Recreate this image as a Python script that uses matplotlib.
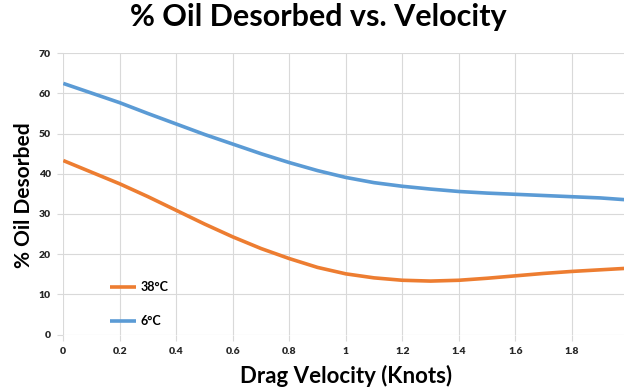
import matplotlib
matplotlib.use("Agg")
import matplotlib.pyplot as plt

velocity = [0.0, 0.1, 0.2, 0.3, 0.4, 0.5, 0.6, 0.7, 0.8, 0.9, 1.0,
            1.1, 1.2, 1.3, 1.4, 1.5, 1.6, 1.7, 1.8, 1.9, 2.0]
oil_38c = [43.3, 40.4, 37.5, 34.3, 30.9, 27.5, 24.3, 21.4, 18.9, 16.7, 15.1,
           14.1, 13.5, 13.3, 13.5, 14.0, 14.6, 15.2, 15.7, 16.1, 16.5]
oil_6c = [62.5, 60.1, 57.7, 55.0, 52.4, 49.8, 47.4, 45.0, 42.8, 40.8, 39.1,
          37.8, 36.9, 36.2, 35.6, 35.2, 34.9, 34.6, 34.3, 34.0, 33.5]
series_labels = ["38°C", "6°C"]
xticks = [0, 0.2, 0.4, 0.6, 0.8, 1, 1.2, 1.4, 1.6, 1.8]
xtick_labels = ["0", "0.2", "0.4", "0.6", "0.8", "1", "1.2", "1.4", "1.6", "1.8"]
yticks = [0, 10, 20, 30, 40, 50, 60, 70]

plt.rcParams['font.family'] = ['Lato', 'DejaVu Sans']

W, H = 624, 392
fig = plt.figure(figsize=(W / 100, H / 100), dpi=100)
left, right_px, top_px, bottom_px = 63.3, 628.3, 53.3, 334.5
ax = fig.add_axes([left / W, (H - bottom_px) / H, (right_px - left) / W, (bottom_px - top_px) / H])

ax.plot(velocity, oil_38c, color="#ED7D31", lw=2.6, label=series_labels[0], solid_capstyle='butt')
ax.plot(velocity, oil_6c, color="#5B9BD5", lw=2.6, label=series_labels[1], solid_capstyle='butt')

ax.set_xlim(0, 2.0)
ax.set_ylim(0, 70)
ax.set_xticks(xticks)
ax.set_xticklabels(xtick_labels)
ax.set_yticks(yticks)
ax.grid(True, color="#D9D9D9", lw=0.8)
ax.set_axisbelow(True)
for s in ax.spines.values():
    s.set_visible(False)
ax.tick_params(axis='both', length=4, width=0.8, color="#D9D9D9",
               labelsize=7.5, labelcolor="#262626", pad=5)
for lab in ax.get_xticklabels() + ax.get_yticklabels():
    lab.set_fontweight('heavy')

fig.text(318 / W, 1 - 17 / H, "% Oil Desorbed vs. Velocity", ha='center', va='center',
         fontsize=22, fontweight='bold', color='black')
fig.text(346 / W, 1 - 376 / H, "Drag Velocity (Knots)", ha='center', va='center',
         fontsize=16, fontweight='bold', color='black')
fig.text(24 / W, 1 - 195 / H, "% Oil Desorbed", ha='center', va='center', rotation=90,
         fontsize=15, fontweight='bold', color='black')

leg = ax.legend(loc='upper left', bbox_to_anchor=(0.083, 0.19), frameon=False,
                handlelength=2.1, handletextpad=0.3, labelspacing=1.75, borderpad=0,
                borderaxespad=0, prop={'weight': 'bold', 'size': 9})

fig.savefig("out.png", dpi=100)
